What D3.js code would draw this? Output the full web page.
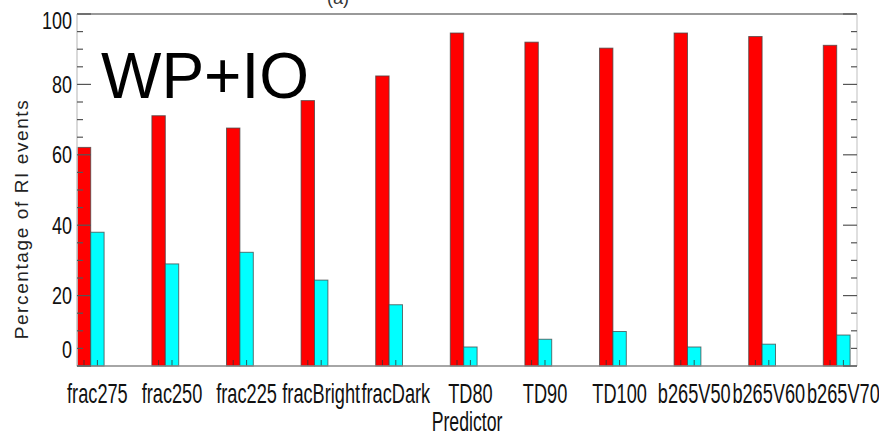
<!DOCTYPE html>
<html>
<head>
<meta charset="utf-8">
<script src="https://cdn.jsdelivr.net/npm/d3@7"></script>
<style>
  html, body { margin: 0; padding: 0; background: #fff; }
  #graf { width: 879px; height: 436px; }
  .narrow { font-family: 'Liberation Sans', Arial, sans-serif; }
</style>
</head>
<body>
<div id="graf"></div>
<script>
// datos
predictores = ['frac275', 'frac250', 'frac225', 'fracBright', 'fracDark', 'TD80', 'TD90', 'TD100', 'b265V50', 'b265V60', 'b265V70']
rojo  = [62.1, 71.1, 67.6, 75.4, 82.4, 94.6, 92.0, 90.3, 94.6, 93.6, 91.1]
cian  = [38.0, 29.0, 32.3, 24.4, 17.4, 5.4, 7.6, 9.8, 5.4, 6.2, 8.8]
series = ['rojo', 'cian']
yTicks = [0, 20, 40, 60, 80, 100]

ancho_total = 879
alto_total = 436
margins = {top: 14, left: 77, right: 22, bottom: 70}
ancho = ancho_total - margins.left - margins.right
alto = alto_total - margins.top - margins.bottom

svg = d3.select('#graf').append('svg')
        .attr('width', ancho_total)
        .attr('height', alto_total)

g = svg.append('g')
       .attr('transform', `translate(${margins.left}, ${margins.top})`)

// escaladores
paso = 74.6
x = d3.scaleBand().domain(predictores).range([0, paso * predictores.length]).padding(0)
x1 = d3.scaleBand().domain(series).range([0.3, 0.3 + 26.8])
y = d3.scaleLinear().domain([0, 100]).range([alto, 0])
color = d3.scaleOrdinal().domain(series).range(['#ff0000', '#00ffff'])

datos = predictores.map((p, i) => ({p: p, rojo: rojo[i], cian: cian[i]}))

// titulo cortado arriba
svg.append('text')
   .attr('x', 338)
   .attr('y', 4)
   .attr('text-anchor', 'middle')
   .attr('font-family', 'Liberation Sans, Arial, sans-serif')
   .attr('font-size', '18px')
   .attr('fill', '#333')
   .text('(a)')

// barras
grupos = g.selectAll('.grupo')
          .data(datos)
          .enter().append('g')
          .attr('class', 'grupo')
          .attr('transform', d => `translate(${x(d.p)}, 0)`)

grupos.selectAll('rect')
      .data(d => series.map(s => ({s: s, v: d[s]})))
      .enter().append('rect')
      .attr('x', d => x1(d.s))
      .attr('y', d => y(d.v))
      .attr('width', x1.bandwidth())
      .attr('height', d => alto - y(d.v))
      .attr('fill', d => color(d.s))
      .attr('stroke', '#444')
      .attr('stroke-opacity', 0.75)
      .attr('stroke-width', 1)

// marcas pequenas al pie de cada barra
grupos.selectAll('line')
      .data(series)
      .enter().append('line')
      .attr('x1', s => x1(s) + x1.bandwidth() / 2)
      .attr('x2', s => x1(s) + x1.bandwidth() / 2)
      .attr('y1', alto)
      .attr('y2', alto - 6)
      .attr('stroke', '#333')
      .attr('stroke-opacity', 0.8)
      .attr('stroke-width', 1)

// marco
g.append('line').attr('x1', 0).attr('x2', ancho).attr('y1', 0).attr('y2', 0)
 .attr('stroke', '#999').attr('stroke-width', 2)
g.append('line').attr('x1', 0).attr('x2', 0).attr('y1', 0).attr('y2', alto)
 .attr('stroke', '#ccc').attr('stroke-width', 1.5)
g.append('line').attr('x1', ancho).attr('x2', ancho).attr('y1', 0).attr('y2', alto)
 .attr('stroke', '#d4d4d4').attr('stroke-width', 1.5)
g.append('line').attr('x1', 0).attr('x2', ancho).attr('y1', alto).attr('y2', alto)
 .attr('stroke', '#888').attr('stroke-width', 1.5)

// ticks del eje Y (izquierda y derecha, hacia adentro)
menores = d3.range(0, 101, 5)
menores.forEach(v => {
    largo = (v % 20 == 0) ? 14 : 6
    g.append('line')
     .attr('x1', 0).attr('x2', largo)
     .attr('y1', y(v)).attr('y2', y(v))
     .attr('stroke', '#555').attr('stroke-width', 1.2)
    g.append('line')
     .attr('x1', ancho - largo).attr('x2', ancho)
     .attr('y1', y(v)).attr('y2', y(v))
     .attr('stroke', '#555').attr('stroke-width', 1.2)
})

// letra estrecha: se comprime en horizontal con scale
g.selectAll('.ylab')
 .data(yTicks)
 .enter().append('text')
 .attr('class', 'ylab narrow')
 .attr('transform', d => `translate(-5, ${Math.min(Math.max(y(d), 7), alto - 16)}) scale(0.75, 1)`)
 .attr('dy', '0.35em')
 .attr('text-anchor', 'end')
 .attr('font-size', '24px')
 .attr('fill', '#111')
 .text(d => d)

// etiquetas del eje X, centradas bajo la barra cian
g.selectAll('.xlab')
 .data(predictores)
 .enter().append('text')
 .attr('class', 'xlab narrow')
 .attr('transform', d => `translate(${x(d) + x1('cian') + x1.bandwidth() / 2}, ${alto + 37}) scale(0.7, 1.05)`)
 .attr('text-anchor', 'middle')
 .attr('font-size', '26px')
 .attr('fill', '#111')
 .text(d => d)

// titulos de ejes
svg.append('text')
   .attr('class', 'narrow')
   .attr('transform', `translate(${margins.left + ancho / 2}, 431) scale(0.68, 1.05)`)
   .attr('text-anchor', 'middle')
   .attr('font-size', '26px')
   .attr('fill', '#111')
   .text('Predictor')

svg.append('text')
   .attr('transform', 'translate(28, 219) rotate(-90)')
   .attr('text-anchor', 'middle')
   .attr('font-family', 'Liberation Sans, Arial, sans-serif')
   .attr('font-size', '19px')
   .attr('letter-spacing', '1.6px')
   .attr('fill', '#222')
   .text('Percentage of RI events')

// rotulo grande
svg.append('text')
   .attr('x', 101)
   .attr('y', 98)
   .attr('font-family', 'Liberation Sans, Arial, sans-serif')
   .attr('font-size', '64px')
   .attr('fill', '#000')
   .text('WP+IO')
</script>
</body>
</html>
